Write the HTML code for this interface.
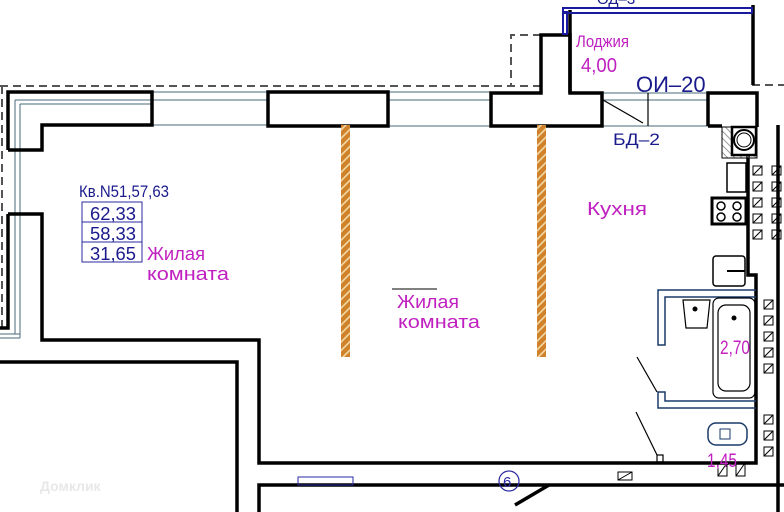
<!DOCTYPE html>
<html><head><meta charset="utf-8"><style>
body{margin:0;background:#fff}
svg{display:block}
text{font-family:"Liberation Sans","DejaVu Sans",sans-serif}
</style></head><body>
<svg width="784" height="512" viewBox="0 0 784 512" xmlns="http://www.w3.org/2000/svg">
<defs>
<pattern id="h" width="6" height="6" patternUnits="userSpaceOnUse" patternTransform="rotate(-45)">
<rect width="6" height="6" fill="#d0822a"/><line x1="0" y1="3" x2="6" y2="3" stroke="#f5e0b0" stroke-width="1.5"/></pattern>
<pattern id="g" width="5" height="5" patternUnits="userSpaceOnUse" patternTransform="rotate(45)">
<line x1="0" y1="2" x2="5" y2="2" stroke="#999" stroke-width="1"/></pattern>
</defs>
<g fill="none" stroke="#555" stroke-width="2" stroke-dasharray="8,5">
<path d="M0 86 H542"/><path d="M752 85 H784"/><path d="M2 86 V330"/>
<path d="M541 35 H511 V85"/>
</g>
<g stroke="#4a6a7a" stroke-width="1" fill="none">
<path d="M15 100 V334 M20 104 V338 M15 100 H152 M20 104 H152"/>
<path d="M152 92 H268 M152 100 H268 M152 125 H268"/>
<path d="M388 92 H491 M388 100 H491 M388 126 H491"/>
<path d="M602 93 H708 M602 100 H708 M602 126 H708"/>
<path d="M0 334 H20 M0 338 H20"/>
</g>
<g stroke="#000" stroke-width="3.5" fill="none" stroke-linejoin="miter">
<path d="M8 150 V92 H152 V125 H42 V150 H8"/>
<path d="M8 214 H42 V340 H259 V463 H549"/>
<path d="M8 214 V328 H0"/>
<path d="M268 92 H388 V126 H268 Z"/>
<path d="M491 93 H541 V35 H570 V93 H602 V126 H491 Z"/>
<path d="M570 93 V10"/>
<path d="M753 5 V85"/>
<path d="M708 126 V93 H757 V127"/>
<path d="M708 126 H722"/>
<path d="M748 155 V275 H756 V463 H549"/>
<path d="M0 362 H237 V512"/>
<path d="M259 512 V485 H784"/>
<path d="M778 125 V512"/>
<path d="M549 485 L515 505"/>
</g>
<rect x="563" y="8" width="189" height="5" fill="none" stroke="#1a1aa0" stroke-width="2"/>
<rect x="563" y="12" width="4" height="22" fill="none" stroke="#1a1aa0" stroke-width="2"/>
<g stroke="#000" stroke-width="1.2"><line x1="603" y1="100" x2="643" y2="123"/><line x1="648" y1="93" x2="648" y2="126"/></g>
<rect x="341" y="125" width="9" height="232" fill="url(#h)"/>
<rect x="537" y="125" width="9" height="232" fill="url(#h)"/>
<rect x="722" y="127" width="35" height="31" fill="url(#g)" stroke="#000" stroke-width="1"/>
<rect x="732" y="127" width="24" height="28" fill="#fff" stroke="#000" stroke-width="2.5"/>
<circle cx="744" cy="140" r="10" fill="none" stroke="#000" stroke-width="2"/>
<circle cx="744" cy="140" r="7" fill="none" stroke="#000" stroke-width="1"/>
<rect x="727" y="163" width="19" height="29" fill="none" stroke="#000" stroke-width="1.5"/>
<rect x="712" y="198" width="34" height="26" fill="#fff" stroke="#000" stroke-width="3"/>
<g fill="none" stroke="#000" stroke-width="1.5"><circle cx="721" cy="206" r="4"/><circle cx="737" cy="206" r="4"/><circle cx="721" cy="217" r="4"/><circle cx="737" cy="217" r="4"/></g>
<rect x="713" y="256" width="32" height="30" rx="3" fill="none" stroke="#000" stroke-width="1.5"/>
<line x1="727" y1="271" x2="745" y2="271" stroke="#000" stroke-width="2"/>
<g stroke="#000" stroke-width="1" fill="none">
<path d="M753 166h9v9h-9zM753 182h9v9h-9zM753 198h9v9h-9zM753 214h9v9h-9zM753 230h9v9h-9z"/>
<path d="M753 175l9-9M753 191l9-9M753 207l9-9M753 223l9-9M753 239l9-9"/>
<path d="M772 166h9v9h-9zM772 182h9v9h-9zM772 198h9v9h-9zM772 214h9v9h-9zM772 230h9v9h-9z"/>
<path d="M772 175l9-9M772 191l9-9M772 207l9-9M772 223l9-9M772 239l9-9"/>
<path d="M764 300h9v9h-9zM764 316h9v9h-9zM764 332h9v9h-9zM764 348h9v9h-9zM764 364h9v9h-9z"/>
<path d="M764 309l9-9M764 325l9-9M764 341l9-9M764 357l9-9M764 373l9-9"/>
<path d="M764 415h9v9h-9zM764 431h9v9h-9zM764 447h9v9h-9z"/>
<path d="M764 424l9-9M764 440l9-9M764 456l9-9"/>
<path d="M718 463h9v13h-9zM736 463h9v13h-9zM618 472h14v8h-14z"/>
<path d="M718 476l9-13M736 476l9-13M618 480l14-8"/>
</g>
<g fill="none" stroke="#1a3a6a" stroke-width="1.5">
<path d="M756 290 H658 V345 H665 V297 H756"/>
<path d="M756 408 H658 V392 H665 V401 H756"/>
</g>
<rect x="713" y="298" width="42" height="100" rx="6" fill="none" stroke="#000" stroke-width="1.2"/>
<rect x="718" y="305" width="32" height="86" rx="8" fill="none" stroke="#000" stroke-width="1.2"/>
<circle cx="734" cy="318" r="2.5" fill="#000"/>
<path d="M683 300 H710 L707 328 H686 Z" fill="none" stroke="#000" stroke-width="1.2"/>
<circle cx="695" cy="309" r="2.5" fill="#000"/>
<g stroke="#000" stroke-width="1.2"><line x1="637" y1="357" x2="657" y2="392"/><line x1="636" y1="412" x2="657" y2="455"/></g>
<rect x="657" y="455" width="6" height="7" fill="none" stroke="#000" stroke-width="1.2"/>
<rect x="708" y="423" width="39" height="22" rx="8" fill="none" stroke="#1a3a6a" stroke-width="1.5"/>
<rect x="720" y="429" width="10" height="10" fill="none" stroke="#1a3a6a" stroke-width="1"/>
<text x="79" y="197" font-size="17" fill="#1a1a8c" textLength="90" lengthAdjust="spacingAndGlyphs">Кв.N51,57,63</text>
<g fill="none" stroke="#2a2aa0" stroke-width="1"><rect x="82" y="202" width="60" height="20"/><rect x="82" y="222" width="60" height="20"/><rect x="82" y="242" width="60" height="20"/></g>
<g font-size="18" fill="#1a1a8c"><text x="90" y="220" textLength="46" lengthAdjust="spacingAndGlyphs">62,33</text><text x="90" y="240" textLength="46" lengthAdjust="spacingAndGlyphs">58,33</text><text x="90" y="260" textLength="46" lengthAdjust="spacingAndGlyphs">31,65</text></g>
<g font-size="18" fill="#c020c0">
<text x="147" y="260" textLength="58" lengthAdjust="spacingAndGlyphs">Жилая</text><text x="147" y="280" textLength="82" lengthAdjust="spacingAndGlyphs">комната</text>
<text x="397" y="308" textLength="62" lengthAdjust="spacingAndGlyphs">Жилая</text><text x="398" y="328" textLength="82" lengthAdjust="spacingAndGlyphs">комната</text>
<text x="587" y="215" textLength="60" lengthAdjust="spacingAndGlyphs">Кухня</text>
<text x="576" y="47" font-size="17" textLength="53" lengthAdjust="spacingAndGlyphs">Лоджия</text><text x="581" y="72" font-size="20" textLength="36" lengthAdjust="spacingAndGlyphs">4,00</text>
<text x="720" y="354" font-size="19" textLength="30" lengthAdjust="spacingAndGlyphs">2,70</text><text x="707" y="467" font-size="19" textLength="30" lengthAdjust="spacingAndGlyphs">1,45</text>
</g>
<line x1="392" y1="289" x2="437" y2="289" stroke="#000" stroke-width="1"/>
<text x="636" y="92" font-size="22" fill="#1a1a8c">ОИ–20</text>
<text x="613" y="145" font-size="17" fill="#1a1a8c" textLength="47" lengthAdjust="spacingAndGlyphs">БД–2</text>
<text x="597" y="4" font-size="15" fill="#1a1a8c">ОД–3</text>
<circle cx="509" cy="481" r="10" fill="none" stroke="#2a2aa0" stroke-width="1.2"/>
<text x="503" y="487" font-size="15" fill="#2a2aa0">6</text>
<rect x="298" y="477" width="55" height="8" fill="none" stroke="#2a2aa0" stroke-width="1"/>
<text x="40" y="491" font-size="14" fill="#e8e8e8" font-weight="bold">Домклик</text>
</svg>
</body></html>
